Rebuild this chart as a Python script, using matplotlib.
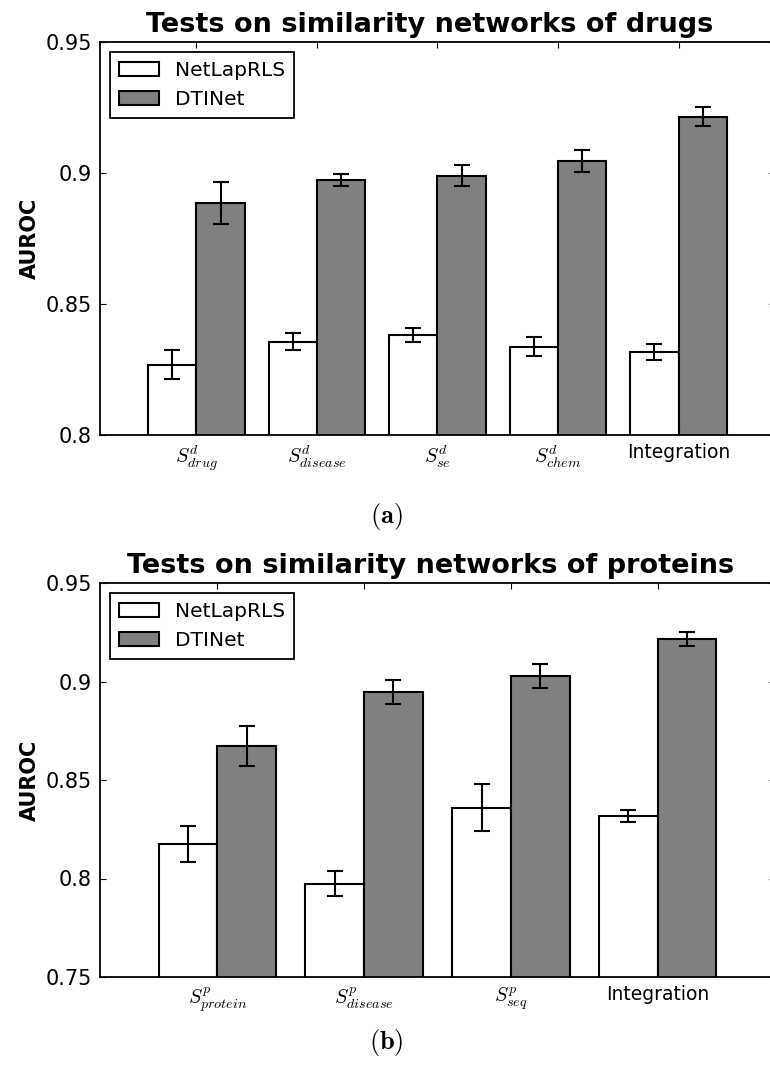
import numpy as np
import matplotlib.pyplot as plt

plt.rcParams['font.family'] = 'DejaVu Sans'
plt.rcParams['mathtext.fontset'] = 'cm'
plt.rcParams['xtick.direction'] = 'in'
plt.rcParams['ytick.direction'] = 'in'
plt.rcParams['xtick.top'] = True
plt.rcParams['ytick.right'] = True
plt.rcParams['xtick.major.size'] = 4
plt.rcParams['ytick.major.size'] = 4

# AUROC (mean, std) for each similarity network
drug_labels = [r'$S^d_{drug}$', r'$S^d_{disease}$', r'$S^d_{se}$', r'$S^d_{chem}$', 'Integration']
drug_netlap = [0.8268, 0.8356, 0.8382, 0.8337, 0.8316]
drug_netlap_err = [0.0055, 0.0032, 0.0028, 0.0037, 0.0031]
drug_dtinet = [0.8884, 0.8973, 0.8990, 0.9046, 0.9215]
drug_dtinet_err = [0.0080, 0.0022, 0.0040, 0.0042, 0.0037]

prot_labels = [r'$S^p_{protein}$', r'$S^p_{disease}$', r'$S^p_{seq}$', 'Integration']
prot_netlap = [0.8175, 0.7974, 0.8359, 0.8316]
prot_netlap_err = [0.0093, 0.0065, 0.0120, 0.0030]
prot_dtinet = [0.8673, 0.8948, 0.9028, 0.9215]
prot_dtinet_err = [0.0100, 0.0062, 0.0060, 0.0036]

width = 0.4
W, H = 770, 1069

fig = plt.figure(figsize=(7.7, 10.69), dpi=100)


def panel(box, labels, netlap, netlap_err, dtinet, dtinet_err, ylim, yticks, title, tag, tag_y):
    ax = fig.add_axes(box)
    ind = np.arange(len(labels))
    ekw = dict(ecolor='black', elinewidth=1.5, capsize=5.5, capthick=1.5)
    ax.bar(ind, netlap, width, align='edge', color='white', edgecolor='black',
           linewidth=1.5, yerr=netlap_err, error_kw=ekw, label='NetLapRLS')
    ax.bar(ind + width, dtinet, width, align='edge', color='#808080', edgecolor='black',
           linewidth=1.5, yerr=dtinet_err, error_kw=ekw, label='DTINet')
    ax.set_xlim(-0.4, len(labels) + 0.2)
    ax.set_ylim(*ylim)
    ax.set_yticks(yticks)
    ax.set_yticklabels([('%.2f' % t).rstrip('0') for t in yticks])
    ax.set_xticks(ind + width)
    ax.set_xticklabels(labels)
    ax.tick_params(labelsize=15, pad=6)
    for t in ax.get_xticklabels():
        t.set_fontsize(14.5 if t.get_text().startswith('$') else 13.5)
    ax.set_ylabel('AUROC', fontsize=15, fontweight='bold')
    ax.set_title(title, fontsize=19.5, fontweight='bold', pad=7, x=0.489)
    for s in ax.spines.values():
        s.set_linewidth(1.3)
    leg = ax.legend(loc='upper left', fontsize=14.5, fancybox=False, framealpha=1,
                    edgecolor='black', handlelength=2, borderpad=0.45, labelspacing=0.5,
                    handletextpad=0.75)
    leg.get_frame().set_linewidth(1.3)
    fig.text(386 / W, tag_y, tag, ha='center', va='center', fontsize=19)
    return ax


panel([100 / W, (H - 435) / H, 675 / W, 393 / H], drug_labels, drug_netlap, drug_netlap_err,
      drug_dtinet, drug_dtinet_err, (0.8, 0.95), [0.8, 0.85, 0.9, 0.95],
      'Tests on similarity networks of drugs', r'$\mathbf{(a)}$', (H - 517) / H)
panel([100 / W, (H - 977) / H, 675 / W, 394 / H], prot_labels, prot_netlap, prot_netlap_err,
      prot_dtinet, prot_dtinet_err, (0.75, 0.95), [0.75, 0.8, 0.85, 0.9, 0.95],
      'Tests on similarity networks of proteins', r'$\mathbf{(b)}$', (H - 1043) / H)

fig.savefig('out.png', dpi=100)
